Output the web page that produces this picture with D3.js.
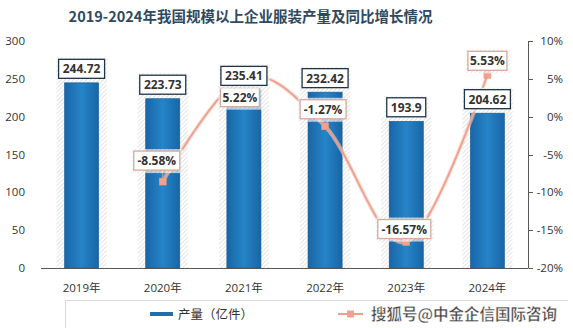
<!DOCTYPE html>
<html><head><meta charset="utf-8">
<script src="https://cdn.jsdelivr.net/npm/d3@7"></script>
<style>
html,body{margin:0;padding:0;background:#fff;}
svg{display:block;font-family:"Open Sans","Liberation Sans",sans-serif;}
</style></head>
<body><svg id="c" width="573" height="328"></svg>
<script>
const categories = ["2019年","2020年","2021年","2022年","2023年","2024年"];
const output = [244.72, 223.73, 235.41, 232.42, 193.9, 204.62];
const growth = [null, -8.58, 5.22, -1.27, -16.57, 5.53];
const leftTicks = [0,50,100,150,200,250,300];
const rightTicks = [-20,-15,-10,-5,0,5,10];
const title = "2019-2024年我国规模以上企业服装产量及同比增长情况";
const seriesNames = ["产量（亿件）", "搜狐号@中金企信国际咨询"];
// label placement offsets (dx, dy of box centre from marker)
const growthLabelOffsets = [null, [-6,-21], [-4,20], [-2,-17], [-2,-13], [0,-14]];

const svg = d3.select("#c");
const W = 573, H = 328;
const m = {l:41, r:45, t:41, b:60};
const x = d3.scaleBand().domain(categories).range([m.l, W-m.r]).paddingInner(0.58).paddingOuter(0.29);
const yL = d3.scaleLinear().domain([0,300]).range([268,41]);
const yR = d3.scaleLinear().domain([-20,10]).range([268,41]);

const defs = svg.append("defs");
const pat = defs.append("pattern").attr("id","hatch").attr("patternUnits","userSpaceOnUse")
  .attr("width",3).attr("height",3).attr("patternTransform","rotate(45)");
pat.append("rect").attr("width",3).attr("height",3).attr("fill","#fff");
pat.append("line").attr("x1",0).attr("y1",0).attr("x2",0).attr("y2",3).attr("stroke","#c8c8c8").attr("stroke-width",1.2);
const gr = defs.append("linearGradient").attr("id","barg").attr("x1","0").attr("x2","1").attr("y1","0").attr("y2","0");
gr.append("stop").attr("offset","0").attr("stop-color","#1866a6");
gr.append("stop").attr("offset","0.5").attr("stop-color","#2684c8");
gr.append("stop").attr("offset","1").attr("stop-color","#1866a6");

// title
svg.append("text").attr("x",W/2-36).attr("y",22).attr("text-anchor","middle")
  .attr("font-family","'Noto Sans CJK SC',sans-serif").attr("font-weight","bold")
  .attr("font-size",14.5).attr("fill","#2f4a60").text(title);

// bar shadows (hatched)
svg.append("g").selectAll("rect").data(output).join("rect")
  .attr("x",(d,i)=>x(categories[i])-8).attr("width",x.bandwidth()+16)
  .attr("y",d=>yL(d)-4).attr("height",d=>yL(0)-yL(d)+4)
  .attr("fill","url(#hatch)").attr("opacity",0.8);

// bars
svg.append("g").selectAll("rect").data(output).join("rect")
  .attr("x",(d,i)=>x(categories[i])).attr("width",x.bandwidth())
  .attr("y",d=>yL(d)).attr("height",d=>yL(0)-yL(d))
  .attr("fill","url(#barg)").attr("stroke","#135a92").attr("stroke-width",0.6);

// baseline
svg.append("line").attr("x1",m.l).attr("x2",W-m.r).attr("y1",yL(0)+0.5).attr("y2",yL(0)+0.5)
  .attr("stroke","#595959").attr("stroke-width",1);

// left axis labels
svg.append("g").selectAll("text").data(leftTicks).join("text")
  .attr("x",25).attr("y",d=>yL(d)+4).attr("text-anchor","end")
  .attr("font-size",11.5).attr("fill","#333").text(d=>d);

// right axis
const ra = svg.append("g");
ra.append("line").attr("x1",528.5).attr("x2",528.5).attr("y1",yR(10)).attr("y2",yR(-20)).attr("stroke","#595959");
ra.selectAll("line.t").data(rightTicks).join("line").attr("class","t")
  .attr("x1",528.5).attr("x2",533).attr("y1",d=>Math.round(yR(d))+0.5).attr("y2",d=>Math.round(yR(d))+0.5).attr("stroke","#595959");
ra.selectAll("text").data(rightTicks).join("text")
  .attr("x",563).attr("y",d=>yR(d)+4).attr("text-anchor","end")
  .attr("font-size",11.5).attr("fill","#333").text(d=>d+"%");

// x labels
svg.append("g").selectAll("text").data(categories).join("text")
  .attr("x",d=>x(d)+x.bandwidth()/2).attr("y",292).attr("text-anchor","middle")
  .attr("font-family","'Open Sans','Noto Sans CJK SC',sans-serif")
  .attr("font-size",11.5).attr("fill","#333").text(d=>d);

// growth line
const pts = growth.map((g,i)=>g==null?null:[x(categories[i])+x.bandwidth()/2, yR(g)]).filter(p=>p);
const lineGen = d3.line().curve(d3.curveCardinal.tension(0));
svg.append("path").attr("d",lineGen(pts)).attr("fill","none").attr("stroke","#f6c8bd").attr("stroke-width",4).attr("opacity",0.6);
svg.append("path").attr("d",lineGen(pts)).attr("fill","none").attr("stroke","#ee9f8c").attr("stroke-width",1.8);

// leader lines
growth.forEach((g,i)=>{
  if(g==null) return;
  if(i===1||i===3){
    const cx = x(categories[i])+x.bandwidth()/2, cy=yR(g);
    const o = growthLabelOffsets[i];
    svg.append("line").attr("x1",cx).attr("y1",cy).attr("x2",cx+o[0]+6).attr("y2",cy+o[1]+10)
      .attr("stroke","#a6a6a6").attr("stroke-width",1.2);
  }
});

// markers
svg.append("g").selectAll("rect").data(growth.map((g,i)=>({g,i})).filter(d=>d.g!=null)).join("rect")
  .attr("x",d=>x(categories[d.i])+x.bandwidth()/2-3.5).attr("y",d=>yR(d.g)-3.5)
  .attr("width",7).attr("height",7).attr("fill","#f0a28e").attr("stroke","#e8917c").attr("stroke-width",0.5);

function labelBox(cx, cy, txt, border, w){
  const g = svg.append("g");
  const h = 19;
  g.append("rect").attr("x",cx-w/2-2).attr("y",cy-h/2-2).attr("width",w+5).attr("height",h+5).attr("fill","url(#hatch)").attr("opacity",0.7);
  g.append("rect").attr("x",cx-w/2).attr("y",cy-h/2).attr("width",w).attr("height",h)
    .attr("fill","#fff").attr("stroke",border).attr("stroke-width",1.3);
  g.append("text").attr("x",cx).attr("y",cy+4.5).attr("text-anchor","middle")
    .attr("font-size",12).attr("font-weight","bold").attr("fill","#333").text(txt);
}

// growth labels
growth.forEach((g,i)=>{
  if(g==null) return;
  const cx = x(categories[i])+x.bandwidth()/2, cy=yR(g);
  const o = growthLabelOffsets[i];
  const t = g.toFixed(2)+"%";
  labelBox(cx+o[0], cy+o[1], t, "#d9a99c", t.length*7+4);
});

// value labels
output.forEach((v,i)=>{
  const cx = x(categories[i])+x.bandwidth()/2;
  const t = String(v);
  labelBox(cx, yL(v)-14, t, "#1f3349", t.length*7+4);
});

// legend
const lg = svg.append("g");
lg.append("path").attr("d","M65.5,328 V300.5 H568").attr("fill","none").attr("stroke","#d9d9d9");
lg.append("line").attr("x1",150).attr("x2",173).attr("y1",314).attr("y2",314).attr("stroke","#1f6ead").attr("stroke-width",4);
lg.append("text").attr("x",178).attr("y",318.5).attr("font-family","'Noto Sans CJK SC',sans-serif")
  .attr("font-size",12.5).attr("fill","#333").text(seriesNames[0]);
lg.append("line").attr("x1",338).attr("x2",363).attr("y1",314).attr("y2",314).attr("stroke","#ee9f8c").attr("stroke-width",2);
lg.append("rect").attr("x",347).attr("y",310.5).attr("width",7).attr("height",7).attr("fill","#f0a28e");
lg.append("text").attr("x",371).attr("y",320).attr("font-family","'Noto Sans CJK SC',sans-serif")
  .attr("font-size",15.5).attr("font-weight","bold").attr("fill","#444")
  .attr("stroke","#fff").attr("stroke-width",0.4).text(seriesNames[1]);
</script></body></html>
